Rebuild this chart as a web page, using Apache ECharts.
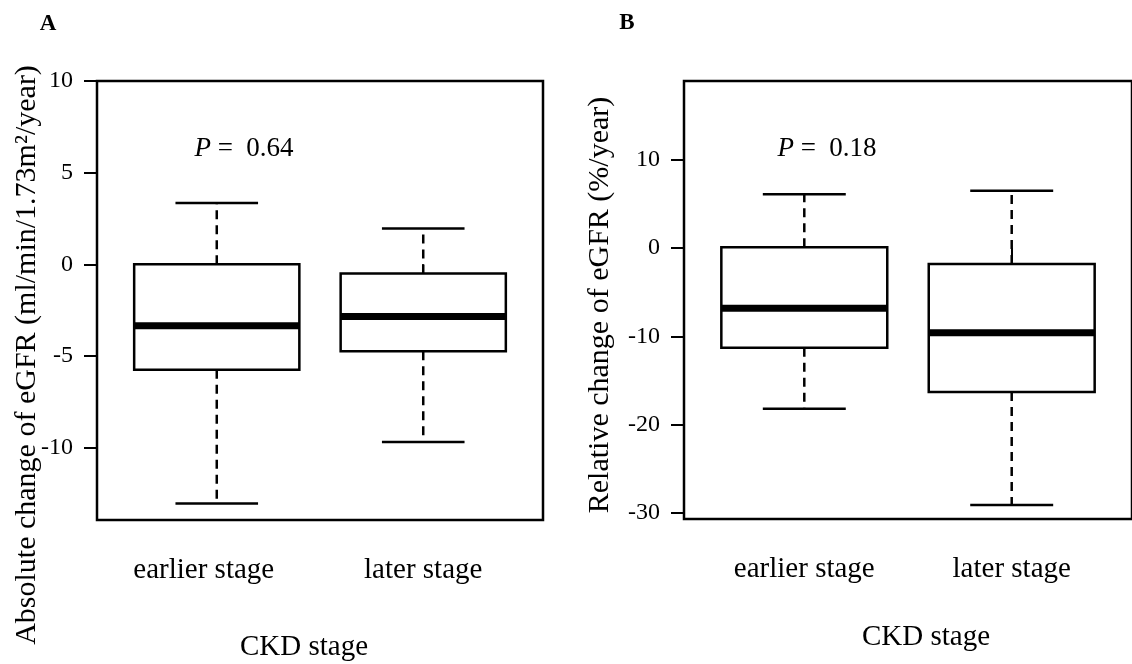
<!DOCTYPE html>
<html>
<head>
<meta charset="utf-8">
<script src="https://cdn.jsdelivr.net/npm/echarts@6/dist/echarts.min.js"></script>
<style>
  html, body { margin: 0; padding: 0; background: #fff; }
  #main { width: 1132px; height: 664px; }
</style>
</head>
<body>
<div id="main"></div>
<script>
// categories on the x axis of both panels
const categories = ['earlier stage', 'later stage'];
// box statistics: [min, Q1, median, Q3, max]
const absStats = [
  [-13.05, -5.75, -3.35, 0.0, 3.35],
  [-9.7, -4.75, -2.85, -0.5, 1.95]
];
const relStats = [
  [-18.2, -11.3, -6.8, 0.1, 6.1],
  [-29.1, -16.3, -9.6, -1.8, 6.5]
];
const absTicks = [-10, -5, 0, 5, 10];
const relTicks = [-30, -20, -10, 0, 10];
const catTicks = [1, 2];
const pLabels = ['0.64', '0.18'];

const FONT = '"Liberation Serif", "Times New Roman", serif';
const chart = echarts.init(document.getElementById('main'));

// R style boxplot: dashed whiskers, half width staples, thick median
function renderBox(params, api) {
  const x = api.value(0);
  const p = [1, 2, 3, 4, 5].map(i => api.coord([x, api.value(i)]));
  const cx = p[0][0];
  const left = api.coord([x - 0.4, 0])[0];
  const right = api.coord([x + 0.4, 0])[0];
  const sl = api.coord([x - 0.2, 0])[0];
  const sr = api.coord([x + 0.2, 0])[0];
  const solid = { stroke: '#000', lineWidth: 2.5 };
  const dashed = { stroke: '#000', lineWidth: 2.5, lineDash: [9, 6] };
  return {
    type: 'group',
    children: [
      { type: 'line', shape: { x1: cx, y1: p[3][1], x2: cx, y2: p[4][1] }, style: dashed },
      { type: 'line', shape: { x1: cx, y1: p[1][1], x2: cx, y2: p[0][1] }, style: dashed },
      { type: 'line', shape: { x1: sl, y1: p[4][1], x2: sr, y2: p[4][1] }, style: solid },
      { type: 'line', shape: { x1: sl, y1: p[0][1], x2: sr, y2: p[0][1] }, style: solid },
      {
        type: 'rect',
        shape: { x: left, y: p[3][1], width: right - left, height: p[1][1] - p[3][1] },
        style: { fill: '#fff', stroke: '#000', lineWidth: 2.5 }
      },
      { type: 'line', shape: { x1: left, y1: p[2][1], x2: right, y2: p[2][1] }, style: { stroke: '#000', lineWidth: 7 } }
    ]
  };
}

function xAxisOf(gridIndex, shiftFirst) {
  return {
    type: 'value',
    gridIndex: gridIndex,
    min: 0.42,
    max: 2.58,
    splitLine: { show: false },
    axisLine: { show: false },
    axisTick: { show: true, customValues: catTicks, length: 13, lineStyle: { color: '#000', width: 2 } },
    axisLabel: {
      customValues: catTicks,
      formatter: v => {
        const i = Math.round(v) - 1;
        return (i === 0 && shiftFirst ? '{s|' : '{n|') + categories[i] + '}';
      },
      rich: {
        n: { fontFamily: FONT, fontSize: 29, color: '#000' },
        s: { fontFamily: FONT, fontSize: 29, color: '#000', padding: [0, 26, 0, 0] }
      },
      margin: 36,
      color: '#000',
      fontFamily: FONT,
      fontSize: 29
    }
  };
}

function yAxisOf(gridIndex, min, max, ticks) {
  return {
    type: 'value',
    gridIndex: gridIndex,
    min: min,
    max: max,
    splitLine: { show: false },
    axisLine: { show: false },
    axisTick: { show: true, customValues: ticks, length: 13, lineStyle: { color: '#000', width: 2 } },
    axisLabel: {
      customValues: ticks,
      margin: 24,
      color: '#000',
      fontFamily: FONT,
      fontSize: 24
    }
  };
}

function text(x, y, str, size, extra) {
  return {
    type: 'text',
    x: x,
    y: y,
    rotation: (extra && extra.rotation) || 0,
    style: Object.assign({
      text: str,
      fill: '#000',
      font: size + 'px ' + FONT,
      align: 'center',
      verticalAlign: 'middle'
    }, extra && extra.style)
  };
}

const pRich = { i: { fontStyle: 'italic', fontFamily: FONT, fontSize: 27 } };

const option = {
  animation: false,
  backgroundColor: '#fff',
  grid: [
    { left: 97, top: 81, width: 446, height: 439, show: true, borderColor: '#000', borderWidth: 2.5 },
    { left: 684, top: 81, width: 454, height: 438, show: true, borderColor: '#000', borderWidth: 2.5 }
  ],
  xAxis: [xAxisOf(0, true), xAxisOf(1, false)],
  yAxis: [
    yAxisOf(0, -13.95, 10, absTicks),
    yAxisOf(1, -30.7, 18.95, relTicks)
  ],
  series: [
    {
      type: 'custom',
      xAxisIndex: 0,
      yAxisIndex: 0,
      renderItem: renderBox,
      encode: { x: 0, y: [1, 2, 3, 4, 5] },
      data: absStats.map((s, i) => [catTicks[i]].concat(s))
    },
    {
      type: 'custom',
      xAxisIndex: 1,
      yAxisIndex: 1,
      renderItem: renderBox,
      encode: { x: 0, y: [1, 2, 3, 4, 5] },
      data: relStats.map((s, i) => [catTicks[i]].concat(s))
    }
  ],
  graphic: [
    text(48, 24, 'A', 23, { style: { font: 'bold 23px ' + FONT } }),
    text(627, 23, 'B', 23, { style: { font: 'bold 23px ' + FONT } }),
    text(244, 149, '{i|P} =  ' + pLabels[0], 27, { style: { rich: pRich } }),
    text(827, 149, '{i|P} =  ' + pLabels[1], 27, { style: { rich: pRich } }),
    text(304, 647, 'CKD stage', 29),
    text(926, 637, 'CKD stage', 29),
    text(27, 355, 'Absolute change of eGFR (ml/min/1.73m²/year)', 30, { rotation: Math.PI / 2 }),
    text(600, 305, 'Relative change of eGFR (%/year)', 30, { rotation: Math.PI / 2 })
  ]
};

chart.setOption(option);
</script>
</body>
</html>
